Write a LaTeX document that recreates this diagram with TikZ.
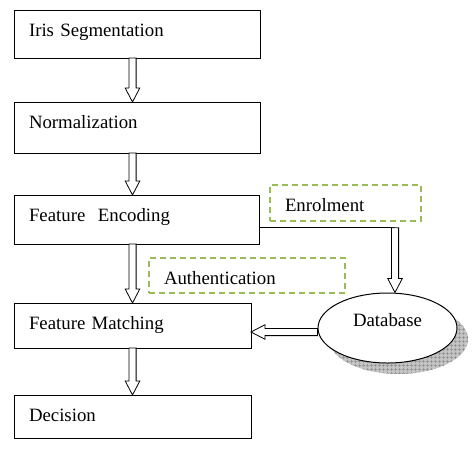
\documentclass[tikz,border=0pt]{standalone}
\usepackage{fontspec}
\setmainfont{Liberation Serif}
\usetikzlibrary{calc,shapes.geometric,shadows,patterns.meta}
\definecolor{ink}{HTML}{000000}
\definecolor{sage}{HTML}{9BBB59}
\definecolor{shade}{HTML}{C4C4C4}
\definecolor{hatch}{HTML}{8C8C8C}

\tikzset{
  stage/.style={draw=ink,line width=0.8pt,anchor=north west,outer sep=0pt,
    inner xsep=15pt,inner ysep=0pt,align=left,text height=26pt},
  phase/.style={draw=sage,line width=1.5pt,dash pattern=on 6pt off 4pt,
    anchor=north west,outer sep=0pt,inner xsep=15pt,inner ysep=0pt,
    align=left,text height=26pt},
  fat/.style={draw=ink,fill=white,line width=0.8pt,line join=miter,
    to path={let \p1=(\tikztostart),\p2=(\tikztotarget) in
      ($(\p1)!3.6pt!90:(\p2)$) -- ($(\p2)!14pt!(\p1)!3.6pt!90:(\p2)$)
      -- ($(\p2)!14pt!(\p1)!7.3pt!90:(\p2)$) -- (\p2)
      -- ($(\p2)!14pt!(\p1)!7.3pt!-90:(\p2)$)
      -- ($(\p2)!14pt!(\p1)!3.6pt!-90:(\p2)$)
      -- ($(\p1)!3.6pt!-90:(\p2)$) -- cycle}}
}

\begin{document}
\begin{tikzpicture}[x=1pt,y=-1pt,font=\fontsize{18.8}{22}\selectfont]
  \useasboundingbox (0,0) rectangle (476,456);
  %% processing stages
  \node[stage,text width=216pt,text depth=22pt] (seg) at (14,10) {Iris Segmentation};
  \node[stage,text width=216pt,text depth=25pt] (norm) at (14,102) {Normalization};
  \node[stage,text width=215pt,text depth=23pt] (enc) at (14,195) {Feature~ Encoding};
  \node[stage,text width=207pt,text depth=19pt] (match) at (14,303) {Feature Matching};
  \node[stage,text width=207pt,text depth=17pt] (dec) at (14,395) {Decision};
  %% enrolment / authentication labels
  \node[phase,text width=121pt,text depth=10pt] (enrol) at (270,185) {Enrolment};
  \node[phase,text width=166pt,text depth=9pt] (auth) at (149,258) {Authentication};
  %% template store
  \node[ellipse,draw=ink,line width=1pt,fill=white,inner sep=0pt,
    minimum width=139pt,minimum height=70pt,text height=13pt,text depth=15.6pt,
    general shadow={shadow xshift=11pt,shadow yshift=-11pt,fill=shade},
    general shadow={shadow xshift=11pt,shadow yshift=-11pt,
      pattern={Hatch[distance=4pt,angle=0,line width=0.4pt]},pattern color=hatch}]
    (db) at (387.5,328) {Database};
  %% main flow
  \draw[fat] (seg.south -| match) to (norm.north -| match);
  \draw[fat] (norm.south -| match) to (enc.north -| match);
  \draw[fat] (enc.south -| match) to (match.north -| match);
  \draw[fat] (match.south -| match) to (dec.north -| match);
  %% to and from the database
  \coordinate (drop) at (395,227.7);
  \draw[ink,line width=0.8pt] (enc.east |- drop) -- (drop);
  \draw[fat] (drop) to (drop |- db.north);
  \coordinate (lookup) at ([yshift=-4pt]db.west);
  \draw[fat] (lookup) to (lookup -| match.east);
\end{tikzpicture}
\end{document}
